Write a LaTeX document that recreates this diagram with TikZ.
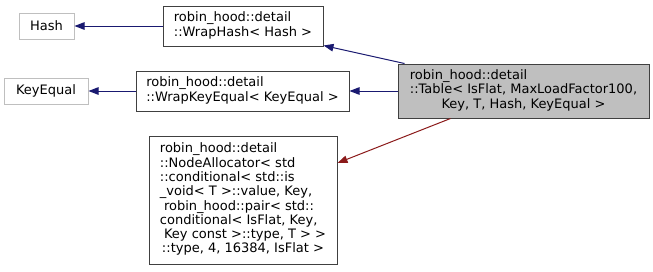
\documentclass[tikz,border=0pt]{standalone}
\usepackage{fontspec}
\setmainfont{DejaVu Sans}
\usetikzlibrary{arrows.meta,calc}
\definecolor{edgeblue}{HTML}{191970}
\definecolor{edgered}{HTML}{8B1A1A}
\definecolor{lgray}{HTML}{BFBFBF}
\definecolor{bdark}{HTML}{404040}
\newcommand{\dxlines}[1]{{\fontsize{13}{14.3}\selectfont\begin{tabular}{@{}l@{}}#1\end{tabular}}}
\newcommand{\dxlast}[1]{\multicolumn{1}{@{}c@{}}{#1}}
\begin{document}
\begin{tikzpicture}[x=1pt,y=-1pt,
  cls/.style={draw=bdark,line width=1pt,inner sep=0pt,minimum width=#1,font=\fontsize{13}{14.3}\selectfont},
  ext/.style={draw=lgray,line width=1pt,inner sep=0pt,minimum width=#1,minimum height=26pt,font=\fontsize{13}{14.3}\selectfont},
  inh/.style={draw=edgeblue,line width=1pt,-{Triangle[length=10pt,width=7.5pt]}},
  use/.style={draw=edgered,line width=1pt,-{Triangle[length=10pt,width=7.5pt]}}]
\useasboundingbox (0,0) rectangle (653,271);
\node[ext=55pt] (hash) at (46.5,26) {Hash};
\node[ext=84pt] (keq) at (46,91) {KeyEqual};
\node[cls=160pt,minimum height=40pt] (wh) at (243,26) {\dxlines{robin\_hood::detail\\::WrapHash< Hash >}};
\node[cls=213pt,minimum height=40pt] (wk) at (242.5,91) {\dxlines{robin\_hood::detail\\::WrapKeyEqual< KeyEqual >}};
\node[cls=251pt,minimum height=54pt,fill=lgray] (tab) at (523.5,91) {\dxlines{robin\_hood::detail\\::Table< IsFlat, MaxLoadFactor100,\\\dxlast{Key, T, Hash, KeyEqual >}}};
\node[cls=188pt,minimum height=128pt] (na) at (243,200) {\dxlines{robin\_hood::detail\\::NodeAllocator< std\\::conditional< std::is\\\_void< T >::value, Key,\\\ robin\_hood::pair< std::\\conditional< IsFlat, Key,\\\ Key const >::type, T > >\\\dxlast{::type, 4, 16384, IsFlat >}}};
\draw[inh] (wh.west) -- (hash.east);
\draw[inh] (wk.west) -- (keq.east);
\draw[inh] ($(tab.north west)+(7,0)$) -- ($(wh.south east)+(0,-1)$);
\draw[inh] (tab.west) -- (wk.east);
\draw[use] ($(tab.south west)+(53,0)$) -- ($(na.east)+(0,-37)$);
\end{tikzpicture}
\end{document}
